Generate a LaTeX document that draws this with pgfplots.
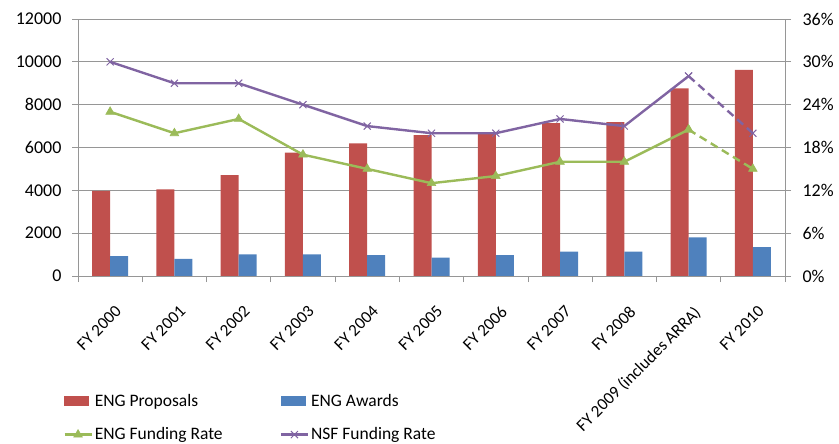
\documentclass[border=0pt]{standalone}
\usepackage{pgfplots}
\pgfplotsset{compat=1.18}
\usepackage{fontspec}
\setmainfont{Carlito}
\definecolor{cred}{HTML}{C0504D}
\definecolor{cblue}{HTML}{4F81BD}
\definecolor{cgreen}{HTML}{9BBB59}
\definecolor{cpurple}{HTML}{8064A2}
\definecolor{gridc}{HTML}{969696}
\begin{document}
\begin{tikzpicture}[font=\fontsize{18pt}{21pt}\selectfont]
\path[use as bounding box] (-78pt,-168pt) rectangle (761pt,276pt);
\begin{axis}[
  scale only axis, width=707pt, height=257pt,
  at={(0pt,0pt)}, anchor=south west,
  xmin=-0.5, xmax=10.5, ymin=0, ymax=12000,
  axis x line*=bottom, axis y line*=left,
  axis line style={gridc, line width=0.8pt},
  ytick={0,2000,4000,6000,8000,10000,12000},
  ymajorgrids, grid style={gridc, line width=0.8pt},
  scaled y ticks=false,
  yticklabel style={/pgf/number format/assume math mode=true, /pgf/number format/set thousands separator={}, xshift=-7pt},
  xtick={0,1,2,3,4,5,6,7,8,9,10},
  xticklabels={FY 2000,FY 2001,FY 2002,FY 2003,FY 2004,FY 2005,FY 2006,FY 2007,FY 2008,FY 2009 (includes ARRA),FY 2010},
  major x tick style={draw=none},
  minor xtick={-0.5,0.5,1.5,2.5,3.5,4.5,5.5,6.5,7.5,8.5,9.5,10.5},
  minor x tick style={gridc, line width=0.8pt},
  minor tick length=6pt, major tick length=6pt,
  major y tick style={gridc, line width=0.8pt},
  tick align=outside,
  xticklabel style={rotate=45, anchor=north east, inner sep=0pt, xshift=-13pt, yshift=-19pt, font=\fontsize{17pt}{20pt}\selectfont},
  ybar=0pt, bar width=18pt,
]
\addplot[fill=cred, draw=none] coordinates {(0,3980) (1,4050) (2,4710) (3,5760) (4,6190) (5,6580) (6,6630) (7,7140) (8,7190) (9,8760) (10,9620)};
\addplot[fill=cblue, draw=none] coordinates {(0,930) (1,800) (2,1010) (3,1010) (4,980) (5,860) (6,980) (7,1140) (8,1140) (9,1800) (10,1350)};
\end{axis}
\begin{axis}[
  scale only axis, width=707pt, height=257pt,
  at={(0pt,0pt)}, anchor=south west,
  xmin=-0.5, xmax=10.5, ymin=0, ymax=36,
  axis x line=none, axis y line*=right,
  axis line style={gridc, line width=0.8pt},
  ytick={0,6,12,18,24,30,36},
  yticklabel={\pgfmathprintnumber[assume math mode=true]{\tick}\%},
  yticklabel style={xshift=8pt},
  major y tick style={gridc, line width=0.8pt},
  major tick length=6pt, tick align=outside,
  legend columns=2,
  legend style={at={(-0.021,-0.455)}, anchor=north west, draw=none, fill=none, inner sep=0pt,
    font=\fontsize{17.5pt}{20pt}\selectfont,
    /tikz/every odd column/.append style={column sep=1pt},
    /tikz/every even column/.append style={column sep=56pt},
    row sep=18pt, nodes={inner sep=1pt, anchor=west}},
  legend cell align=left,
]
\addlegendimage{legend image code/.code={\fill[cred] (0pt,-4.5pt) rectangle (24pt,4.5pt);}}
\addlegendentry{ENG Proposals}
\addlegendimage{legend image code/.code={\fill[cblue] (0pt,-4.5pt) rectangle (24pt,4.5pt);}}
\addlegendentry{ENG Awards}
\pgfplotsset{every axis plot/.append style={legend image code/.code={\draw[mark repeat=2,mark phase=2,#1] plot coordinates {(0pt,0pt) (13.5pt,0pt) (27pt,0pt)};}}}
\addplot[cgreen, line width=2.4pt, mark=triangle*, mark size=5pt, mark options={solid, line width=0.6pt}] coordinates {(0,23) (1,20) (2,22) (3,17) (4,15) (5,13) (6,14) (7,16) (8,16) (9,20.5)};
\addlegendentry{ENG Funding Rate}
\addplot[cpurple, line width=2.4pt, mark=x, mark size=5pt, mark options={solid, line width=1pt}] coordinates {(0,30) (1,27) (2,27) (3,24) (4,21) (5,20) (6,20) (7,22) (8,21) (9,28)};
\addlegendentry{NSF Funding Rate}
\addplot[cgreen, line width=2.4pt, dash pattern=on 8pt off 5pt, mark=triangle*, mark size=5pt, mark options={solid, line width=0.6pt}, forget plot] coordinates {(9,20.5) (10,15)};
\addplot[cpurple, line width=2.4pt, dash pattern=on 8pt off 5pt, mark=x, mark size=5pt, mark options={solid, line width=1pt}, forget plot] coordinates {(9,28) (10,20)};
\end{axis}
\end{tikzpicture}
\end{document}
